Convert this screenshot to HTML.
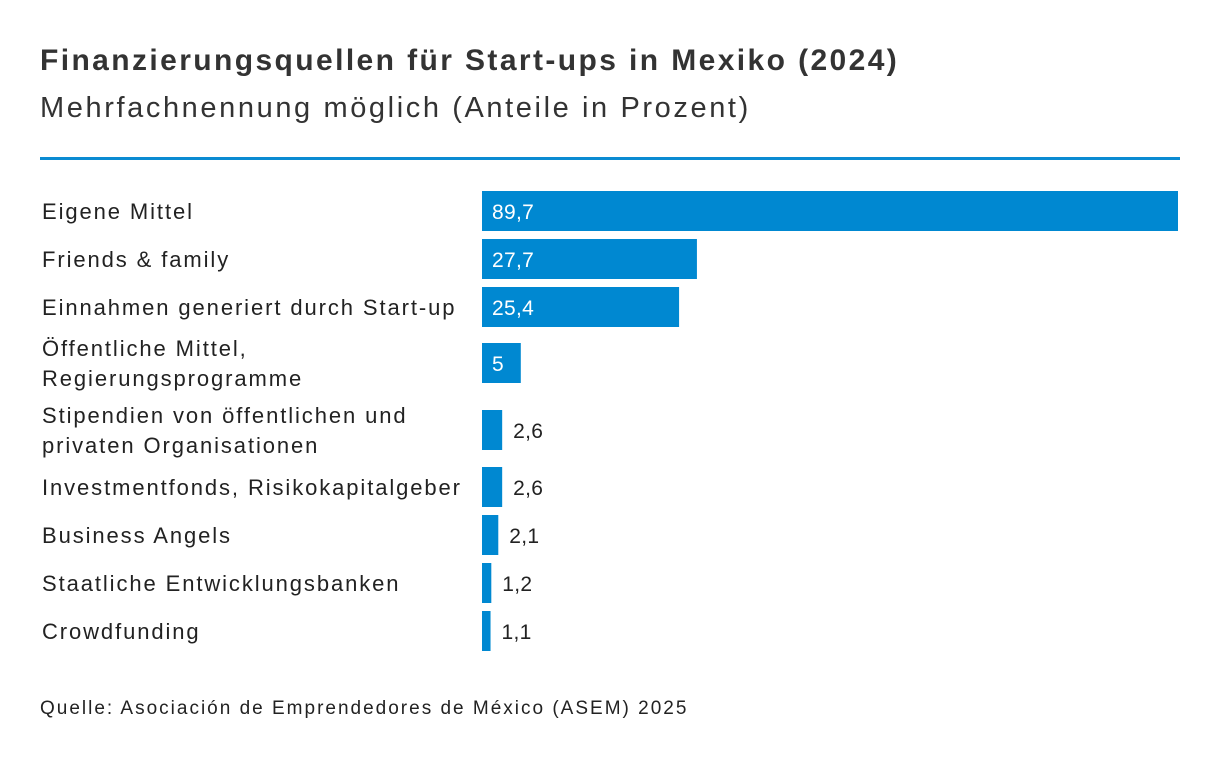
<!DOCTYPE html>
<html><head><meta charset="utf-8"><style>
body{margin:0;width:1220px;height:764px;background:#fff;font-family:"Liberation Sans",sans-serif;color:#222;position:relative;overflow:hidden}
.t{position:absolute;left:40px;top:44px;font-size:30px;font-weight:bold;color:#333;letter-spacing:2.4px}
.s{position:absolute;left:40px;top:92px;font-size:29px;color:#333;letter-spacing:2.6px}
.rule{position:absolute;left:40px;top:157px;width:1140px;height:3px;background:#0a8bd2}
.src{position:absolute;left:40px;top:698px;font-size:19px;color:#222;letter-spacing:2px}
</style></head><body>
<div class="t">Finanzierungsquellen für Start-ups in Mexiko (2024)</div>
<div class="s">Mehrfachnennung möglich (Anteile in Prozent)</div>
<div class="rule"></div>
<svg id="c" width="1220" height="764" style="position:absolute;left:0;top:0"></svg>
<div class="src">Quelle: Asociación de Emprendedores de México (ASEM) 2025</div>
<script>
const categories=[["Eigene Mittel"],["Friends & family"],["Einnahmen generiert durch Start-up"],["Öffentliche Mittel,","Regierungsprogramme"],["Stipendien von öffentlichen und","privaten Organisationen"],["Investmentfonds, Risikokapitalgeber"],["Business Angels"],["Staatliche Entwicklungsbanken"],["Crowdfunding"]];
const values=[89.7,27.7,25.4,5,2.6,2.6,2.1,1.2,1.1];
const valueLabels=["89,7","27,7","25,4","5","2,6","2,6","2,1","1,2","1,1"];
const centers=[211,259,307,363,430,487,535,583,631];
const x0=482,scale=(1178-482)/89.7;
const x=v=>x0+v*scale;
const svg=document.getElementById('c');const ns="http://www.w3.org/2000/svg";
values.forEach((v,i)=>{
const cy=centers[i];
const r=document.createElementNS(ns,'rect');


r.setAttribute('x',x0);r.setAttribute('y',cy-20);r.setAttribute('width',x(v)-x0);r.setAttribute('height',40);r.setAttribute('fill','#0088d1');svg.appendChild(r);
const inside=v>=5;
const t=document.createElementNS(ns,'text');


t.setAttribute('x',inside?x0+10:x(v)+11);t.setAttribute('y',cy+8);t.setAttribute('font-size','21');t.setAttribute('letter-spacing','0.3');t.setAttribute('fill',inside?'#fff':'#222');t.setAttribute('font-family','Liberation Sans, sans-serif');t.textContent=valueLabels[i];svg.appendChild(t);
const lines=categories[i];
lines.forEach((ln,j)=>{
const c=document.createElementNS(ns,'text');


const y=cy+8+(lines.length>1?(j-0.5)*30:0);
c.setAttribute('x',42);c.setAttribute('y',y);c.setAttribute('font-size','22');c.setAttribute('letter-spacing','1.9');c.setAttribute('fill','#222');c.setAttribute('font-family','Liberation Sans, sans-serif');c.textContent=ln;svg.appendChild(c);
});
});
</script>
</body></html>
